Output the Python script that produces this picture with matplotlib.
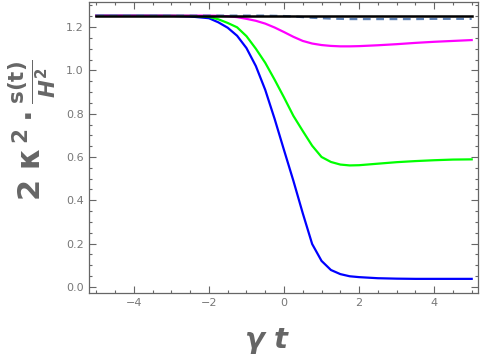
import matplotlib
matplotlib.use('Agg')
import matplotlib.pyplot as plt
from matplotlib.ticker import MultipleLocator

# values
t = [-5, -4, -3, -2.5, -2, -1.75, -1.5, -1.25, -1, -0.75, -0.5, -0.25, 0,
     0.25, 0.5, 0.75, 1, 1.25, 1.5, 1.75, 2, 2.5, 3, 3.5, 4, 4.5, 5]

blue = [1.253, 1.253, 1.252, 1.249, 1.241, 1.222, 1.197, 1.16, 1.103, 1.02,
        0.91, 0.776, 0.632, 0.49, 0.34, 0.198, 0.12, 0.078, 0.059, 0.049,
        0.045, 0.040, 0.038, 0.037, 0.037, 0.037, 0.037]
green = [1.253, 1.253, 1.253, 1.252, 1.247, 1.236, 1.219, 1.199, 1.158, 1.10,
         1.035, 0.957, 0.875, 0.79, 0.72, 0.652, 0.60, 0.577, 0.565, 0.561,
         0.562, 0.569, 0.576, 0.581, 0.585, 0.588, 0.589]
magenta = [1.253, 1.253, 1.253, 1.253, 1.253, 1.252, 1.25, 1.246, 1.238,
           1.229, 1.216, 1.198, 1.177, 1.155, 1.136, 1.124, 1.117, 1.113,
           1.111, 1.111, 1.112, 1.116, 1.121, 1.127, 1.132, 1.136, 1.14]
dashed = [1.253, 1.253, 1.253, 1.253, 1.253, 1.253, 1.253, 1.253, 1.253,
          1.253, 1.253, 1.252, 1.251, 1.249, 1.246, 1.243, 1.241, 1.239,
          1.238, 1.237, 1.237, 1.237, 1.237, 1.237, 1.238, 1.238, 1.238]
black = [1.253] * len(t)

plt.rcParams['mathtext.fontset'] = 'custom'
plt.rcParams['mathtext.rm'] = 'DejaVu Sans:bold'
plt.rcParams['mathtext.it'] = 'DejaVu Sans:bold:italic'
plt.rcParams['mathtext.bf'] = 'DejaVu Sans:bold'

gray = '#666666'
fig = plt.figure(figsize=(4.8, 3.63), dpi=100)
ax = fig.add_axes([0.185, 0.193, 0.811, 0.801])

ax.plot(t, blue, color='#0000ff', lw=1.6)
ax.plot(t, green, color='#00ff00', lw=1.6)
ax.plot(t, magenta, color='#ff00ff', lw=1.6)
ax.plot(t, dashed, color='#5e81b5', lw=1.6, dashes=(3.5, 2.5))
ax.plot(t, black, color='black', lw=1.8)

ax.set_xlim(-5.2, 5.17)
ax.set_ylim(-0.028, 1.315)
ax.xaxis.set_major_locator(MultipleLocator(2))
ax.xaxis.set_minor_locator(MultipleLocator(0.5))
ax.yaxis.set_major_locator(MultipleLocator(0.2))
ax.yaxis.set_minor_locator(MultipleLocator(0.05))
ax.tick_params(which='both', direction='in', top=True, right=True,
               colors=gray, labelcolor='#777777', labelsize=8, width=0.8)
ax.tick_params(which='major', length=5)
ax.tick_params(which='minor', length=2.5)
ax.set_xticks([-4, -2, 0, 2, 4])
ax.set_xticklabels(['\u22124', '\u22122', '0', '2', '4'])
for s in ax.spines.values():
    s.set_color(gray)
    s.set_linewidth(0.9)

ax.set_xlabel(r'$\gamma\ t$', fontsize=21, color=gray)
ax.xaxis.set_label_coords(0.46, -0.115)
ax.set_ylabel(r'$\mathrm{2\ \kappa^{\,2}\cdot}\frac{\mathrm{s(t)}}{H^{2}}$',
              fontsize=22, color=gray, labelpad=6)
ax.yaxis.label.set_y(0.56)

fig.savefig('out.png', dpi=100)
